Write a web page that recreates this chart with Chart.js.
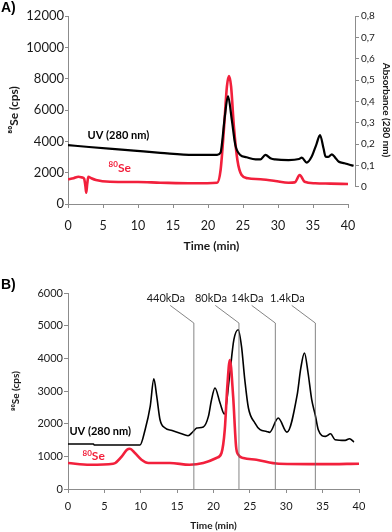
<!DOCTYPE html>
<html>
<head>
<meta charset="utf-8">
<script src="https://cdn.jsdelivr.net/npm/chart.js@4.4.1/dist/chart.umd.min.js"></script>
<style>
    html, body { margin: 0; padding: 0; background: #fff; }
    #wrap { position: relative; width: 392px; height: 532px; overflow: hidden; }
    .box { position: absolute; left: 0; width: 392px; }
    #boxA { top: 0; height: 260px; }
    #boxB { top: 260px; height: 272px; }
    .tag { position: absolute; left: 1px; font: bold 14px "Liberation Sans", Arial, sans-serif; color: #000; }
</style>
</head>
<body>
<div id="wrap">
    <div class="box" id="boxA"><canvas id="chartA"></canvas></div>
    <div class="box" id="boxB"><canvas id="chartB"></canvas></div>
    <div class="tag" style="top:-1px">A)</div>
    <div class="tag" style="top:276px">B)</div>
</div>
<script>
// ---- data ----
const xTicks = [0, 5, 10, 15, 20, 25, 30, 35, 40];
const cpsTicksA = [0, 2000, 4000, 6000, 8000, 10000, 12000];
const absTicksA = [0, 0.1, 0.2, 0.3, 0.4, 0.5, 0.6, 0.7, 0.8];
const cpsTicksB = [0, 1000, 2000, 3000, 4000, 5000, 6000];

// A) UV trace (absorbance, right axis)
const aUVTime = [0, 3, 6.3, 9.4, 13.2, 17.9, 21.3, 21.8, 22.0, 22.4, 22.86, 23.4, 23.9, 24.6, 25.5, 26.8, 27.5, 28.2, 29.0, 29.6,
    31.5, 33.0, 33.4, 34.1, 34.8, 35.5, 36.0, 36.5, 36.8, 37.2, 37.7, 38.2, 38.7, 39.5, 40.0, 40.8];
const aUV = [0.195, 0.186, 0.177, 0.169, 0.159, 0.149, 0.149, 0.16, 0.203, 0.328, 0.425, 0.313, 0.196, 0.149, 0.138, 0.128, 0.128, 0.149, 0.132, 0.128,
    0.125, 0.13, 0.136, 0.113, 0.14, 0.2, 0.242, 0.18, 0.141, 0.14, 0.152, 0.135, 0.117, 0.11, 0.105, 0.098];

// A) 80Se trace (cps)
const aSeTime = [0, 0.8, 1.5, 2.0, 2.3, 2.5, 2.6, 2.75, 2.9, 3.3, 4, 6, 10, 13.2, 17.9, 21.3, 21.8, 22.3, 22.7, 23.0,
    23.3, 23.7, 24.2, 24.8, 25.7, 27.5, 29.6, 31.5, 32.4, 33.1, 33.8, 35.3, 37.5, 40];
const aSe = [1576, 1650, 1740, 1700, 1620, 1100, 720, 1300, 1740, 1650, 1530, 1420, 1400, 1360, 1320, 1360, 2170, 4935, 7490, 8170,
    7490, 4935, 2810, 1850, 1640, 1576, 1470, 1360, 1380, 1850, 1420, 1320, 1300, 1280];

// B) UV trace (plotted in cps units)
const bUVTime = [0, 3.5, 3.6, 9.9, 10.6, 11.3, 11.8, 12.2, 12.65, 13.35, 14.3, 15.5, 16.5, 17.2, 17.7, 18.6, 19.3, 19.7, 20.2, 20.9,
    21.5, 22.2, 22.8, 23.4, 23.85, 24.3, 24.8, 25.7, 26.4, 27.3, 27.7, 28.9, 30.1, 31.5, 32.0, 32.5, 33.0, 33.5, 34.0, 34.4,
    35.4, 36.1, 36.7, 38.1, 38.7, 39.3];
const bUV = [1377, 1377, 1347, 1347, 1815, 2530, 3370, 2835, 2121, 1867, 1794, 1700, 1632, 1760, 1867, 1898, 2222, 2700, 3092, 2633,
    2296, 3447, 4570, 4876, 4365, 3346, 2480, 2020, 1815, 1763, 1733, 2173, 1740, 2880, 3700, 4163, 3551, 2733, 2250, 1815,
    1610, 1690, 1509, 1488, 1540, 1438];

// B) 80Se trace (cps)
const bSeTime = [0, 3, 6.2, 6.5, 7.4, 8.1, 8.5, 9.2, 10.1, 11.05, 14, 16.7, 18.6, 20.4, 21.1, 21.55, 21.9, 22.25, 22.7, 23.1,
    23.4, 24.1, 25.9, 29, 35, 40];
const bSe = [796, 744, 775, 796, 998, 1203, 1234, 1102, 897, 796, 796, 744, 796, 949, 1102, 1815, 3141, 3950, 2835, 1305,
    1050, 949, 897, 775, 760, 775];

// size-exclusion calibration markers in B
const markerTimes = [17.3, 23.5, 28.5, 34.0];
const markerLabels = ['440kDa', '80kDa', '14kDa', '1.4kDa'];

// ---- styling ----
const FAMILY = 'Lato, "Open Sans", sans-serif';
const axisColor = '#8c8c8c';
const textColor = '#1a1a1a';
const seColor = '#f2203c';

const pts = (xs, ys) => xs.map((x, i) => ({ x: x, y: ys[i] }));
const fixTicks = list => scale => { scale.ticks = list.map(v => ({ value: v })); };
const plain = v => String(v);

// red "80Se" label with a raised 80
function drawSe(ctx, x, y, big, small) {
    ctx.save();
    ctx.fillStyle = seColor;
    ctx.textAlign = 'left';
    ctx.textBaseline = 'alphabetic';
    ctx.font = `bold ${small}px ${FAMILY}`;
    ctx.fillText('80', x, y - big * 0.38);
    const w = ctx.measureText('80').width;
    ctx.font = `bold ${big}px ${FAMILY}`;
    ctx.fillText('Se', x + w, y);
    ctx.restore();
}

function drawUV(ctx, x, y, size) {
    ctx.save();
    ctx.fillStyle = '#000';
    ctx.font = `bold ${size}px ${FAMILY}`;
    ctx.textAlign = 'center';
    ctx.textBaseline = 'middle';
    ctx.fillText('UV (280 nm)', x, y);
    ctx.restore();
}

const extrasA = {
    id: 'extrasA',
    afterDraw(chart) {
        const { ctx, chartArea, scales } = chart;
        ctx.save();
        ctx.strokeStyle = axisColor;
        ctx.lineWidth = 1;
        // x axis line only up to 40 min
        ctx.beginPath();
        ctx.moveTo(scales.x.getPixelForValue(0), chartArea.bottom + 0.5);
        ctx.lineTo(scales.x.getPixelForValue(40), chartArea.bottom + 0.5);
        // right axis line from 0 to 0.8
        ctx.moveTo(chartArea.right + 0.5, scales.y1.getPixelForValue(0));
        ctx.lineTo(chartArea.right + 0.5, scales.y1.getPixelForValue(0.8));
        ctx.stroke();
        ctx.restore();
        drawUV(ctx, scales.x.getPixelForValue(7.2), scales.y.getPixelForValue(4400), 11);
        drawSe(ctx, scales.x.getPixelForValue(5.8), scales.y.getPixelForValue(2050), 12, 8);
    }
};

const extrasB = {
    id: 'extrasB',
    afterDatasetsDraw(chart) {
        const { ctx, scales } = chart;
        const x = scales.x, y = scales.y;
        ctx.save();
        ctx.strokeStyle = '#666';
        ctx.lineWidth = 0.8;
        ctx.fillStyle = textColor;
        ctx.font = `11px ${FAMILY}`;
        ctx.textAlign = 'center';
        ctx.textBaseline = 'middle';
        markerTimes.forEach((t, i) => {
            const px = x.getPixelForValue(t);
            ctx.beginPath();
            ctx.moveTo(x.getPixelForValue(t - 3.25), y.getPixelForValue(5620));
            ctx.lineTo(px, y.getPixelForValue(5080));
            ctx.lineTo(px, y.getPixelForValue(0));
            ctx.stroke();
            ctx.fillText(markerLabels[i], x.getPixelForValue(t - 3.85), y.getPixelForValue(5830));
        });
        ctx.restore();
        drawUV(ctx, x.getPixelForValue(4.43), y.getPixelForValue(1763), 11);
        drawSe(ctx, x.getPixelForValue(2.0), y.getPixelForValue(880), 12, 8);
    }
};

function tickFont(size) { return { family: FAMILY, size: size }; }
function titleFont(size) { return { family: FAMILY, size: size, weight: 'bold' }; }

// ---- chart A ----
new Chart(document.getElementById('chartA'), {
    type: 'line',
    data: {
        datasets: [{
            data: pts(aUVTime, aUV),
            yAxisID: 'y1',
            borderColor: '#000',
            borderWidth: 2.2,
            cubicInterpolationMode: 'monotone'
        }, {
            data: pts(aSeTime, aSe),
            yAxisID: 'y',
            borderColor: seColor,
            borderWidth: 2.6,
            cubicInterpolationMode: 'monotone'
        }]
    },
    options: {
        responsive: true,
        maintainAspectRatio: false,
        animation: false,
        events: [],
        elements: { point: { radius: 0 } },
        layout: { padding: { top: 16, left: 0, right: 0, bottom: 0 } },
        plugins: { legend: { display: false }, tooltip: { enabled: false } },
        scales: {
            x: {
                type: 'linear', min: 0, max: 41,
                afterBuildTicks: fixTicks(xTicks),
                afterFit: s => { s.height = 56; },
                border: { display: false },
                grid: { drawOnChartArea: false, tickLength: 4, color: axisColor },
                ticks: { font: tickFont(12.5), color: textColor, padding: 10, maxRotation: 0, callback: plain },
                title: { display: true, text: 'Time (min)', font: titleFont(12), color: textColor, padding: { top: 0, bottom: 7 } }
            },
            y: {
                position: 'left', min: 0, max: 12000,
                afterBuildTicks: fixTicks(cpsTicksA),
                afterFit: s => { s.width = 68; },
                border: { display: true, color: axisColor },
                grid: { drawOnChartArea: false, tickLength: 3, color: axisColor },
                ticks: { font: tickFont(13), color: textColor, padding: 1, callback: plain },
                title: { display: true, text: '⁸⁰Se (cps)', font: titleFont(12), color: textColor, padding: { top: 7, bottom: 0 } }
            },
            y1: {
                position: 'right', min: -0.081, max: 0.8,
                afterBuildTicks: fixTicks(absTicksA),
                afterFit: s => { s.width = 37; },
                border: { display: false },
                grid: { drawOnChartArea: false, tickLength: 4, color: axisColor },
                ticks: {
                    font: tickFont(10), color: textColor, padding: 2,
                    callback: v => v === 0 ? '0' : v.toFixed(1).replace('.', ',')
                },
                title: { display: true, text: 'Absorbance (280 nm)', font: titleFont(10), color: textColor, padding: { top: 0, bottom: 0 } }
            }
        }
    },
    plugins: [extrasA]
});

// ---- chart B ----
new Chart(document.getElementById('chartB'), {
    type: 'line',
    data: {
        datasets: [{
            data: pts(bSeTime, bSe),
            borderColor: seColor,
            borderWidth: 2.6,
            cubicInterpolationMode: 'monotone'
        }, {
            data: pts(bUVTime, bUV),
            borderColor: '#000',
            borderWidth: 1.6,
            cubicInterpolationMode: 'monotone'
        }]
    },
    options: {
        responsive: true,
        maintainAspectRatio: false,
        animation: false,
        events: [],
        elements: { point: { radius: 0 } },
        layout: { padding: { top: 33, left: 0, right: 33, bottom: 0 } },
        plugins: { legend: { display: false }, tooltip: { enabled: false } },
        scales: {
            x: {
                type: 'linear', min: 0, max: 40,
                afterBuildTicks: fixTicks(xTicks),
                afterFit: s => { s.height = 43; },
                border: { display: true, color: axisColor },
                grid: { drawOnChartArea: false, tickLength: 4, color: axisColor },
                ticks: { font: tickFont(11), color: textColor, padding: 7, maxRotation: 0, callback: plain },
                title: { display: true, text: 'Time (min)', font: titleFont(10), color: textColor, padding: { top: 0, bottom: 0 } }
            },
            y: {
                min: 0, max: 6000,
                afterBuildTicks: fixTicks(cpsTicksB),
                afterFit: s => { s.width = 68; },
                border: { display: true, color: axisColor },
                grid: { drawOnChartArea: false, tickLength: 4, color: axisColor },
                ticks: { font: tickFont(11), color: textColor, padding: 1, callback: plain },
                title: { display: true, text: '⁸⁰Se (cps)', font: titleFont(10), color: textColor, padding: { top: 10, bottom: 0 } }
            }
        }
    },
    plugins: [extrasB]
});
</script>
</body>
</html>
